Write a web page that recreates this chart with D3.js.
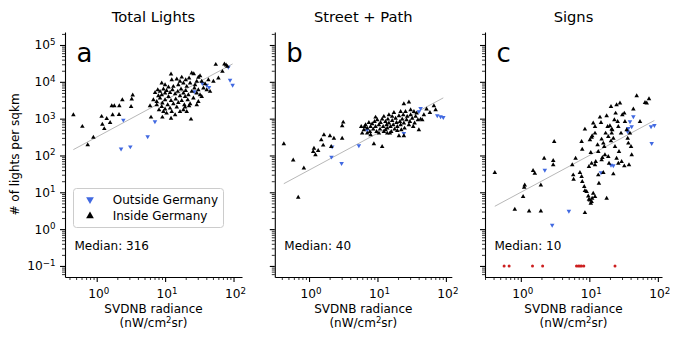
<!DOCTYPE html>
<html>
<head>
<meta charset="utf-8">
<script src="https://cdn.jsdelivr.net/npm/d3@7"></script>
<style>
  body { margin: 0; background: #fff; }
  text { font-family: "DejaVu Sans", sans-serif; fill: #000; }
  .axis path, .axis line { stroke: #000; stroke-width: 1.1px; }
  .minor line { stroke-width: 0.8px; }
</style>
</head>
<body>
<svg id="chart" width="676" height="340"></svg>
<script>
const panelTitles = ['Total Lights', 'Street + Path', 'Signs'];
const panelLetters = ['a', 'b', 'c'];
const medians = [316, 40, 10];
const legendLabels = ['Outside Germany', 'Inside Germany'];
const yMajorExps = [-1, 0, 1, 2, 3, 4, 5];
const xMajorExps = [0, 1, 2];

// [radiance (nW/cm2sr), lights per sqkm]
const totalInside = [
  [0.456,1260],[0.617,610],[0.739,193],[0.894,311],[1.18,1140],[1.21,700],[1.29,530],[1.40,1000],
  [1.57,780],[1.66,2210],[1.81,2210],[1.71,1260],[2.12,1290],[2.14,2210],[2.37,3220],[3.18,2120],
  [3.36,4320],[3.25,3370],[6.02,2210],[6.22,1090],[9.12,1090],[12.2,1020],[23.9,960],
  [55.0,29500],[73.6,30100],[81.3,26000],[77.8,28300],[68.8,19000],[12.2,16100],[24.5,17100],
  [26.2,16400],[30.6,13100],[29.0,10200],[32.4,14500],
  [8.92,9160],[9.98,8260],[12.5,11300],[14.8,11800],[16.5,10200],[17.5,13300],[18.5,9160],
  [20.0,11300],[22.4,12500],[15.6,8260],[11.2,7130],[13.2,7440],[20.7,7440],[23.2,9160],
  [27.4,8260],[34.3,10200],[38.4,8790],[42.9,11300],[50.8,10200],[60.1,12500],[36.3,6700],[30.6,6030],
  [7.13,5110],[7.80,6030],[8.43,5440],[9.44,6290],[9.98,4900],[10.5,5790],[11.8,5110],[12.8,6030],
  [14.0,4700],[15.3,5440],[17.1,6290],[18.5,4900],[20.0,5790],[21.9,4410],[24.5,5440],[26.8,6700],
  [29.0,4900],[32.4,4410],[40.6,6030],[45.4,5440],[7.97,4140],[8.92,4410],[11.2,3970],[16.5,4140],
  [19.6,3970],
  [6.74,3220],[7.54,2900],[8.43,3580],[9.12,2620],[9.98,3220],[10.9,2360],[12.2,3090],[13.2,2510],
  [14.3,3370],[15.6,2730],[17.5,3090],[19.1,2360],[21.4,3220],[23.2,2510],[25.9,3580],[30.6,2900],
  [34.3,3970],[8.92,2120],[9.98,1800],[11.8,1910],[14.8,2040],[19.6,2040],[22.4,2210],[29.0,2360],
  [7.54,2360],[8.15,1730],[9.44,1550],[10.5,1400],[12.5,1550],[14.0,1260],[16.5,1550],[18.5,1730],
  [20.7,1550]
];
const totalOutside = [
  [2.45,920],[2.27,152],[3.1,173],[5.56,324],[7.1,830],[35,9100],[40.5,8200],[43.8,7100],
  [26.7,5400],[84,25000],[89,11200],[97,8200]
];

const streetInside = [
  [0.428,205],[0.587,75],[0.84,45],[0.695,7.3],[1.15,127],[1.18,156],[1.24,103],[1.36,135],
  [1.51,264],[1.61,189],[1.65,360],[2.02,338],[2.11,173],[2.31,292],[3.05,292],[3.05,633],[3.16,796],
  [5.79,607],[5.98,400],[6.33,493],[6.70,674],[7.08,547],[7.49,780],[7.75,444],[7.93,607],
  [8.38,720],[8.67,514],[9.07,830],[9.38,607],[9.70,444],[9.93,920],[10.5,674],[10.9,514],
  [11.1,780],[11.7,960],[12.1,607],[12.4,444],[13.1,830],[13.6,674],[13.9,547],[14.2,960],
  [14.7,750],[15.2,400],[15.5,607],[16.4,885],[17.0,674],[17.4,1460],[17.8,514],[18.4,1020],
  [19.0,780],[19.5,607],[20.6,1180],[21.3,830],[21.8,674],[22.3,493],[23.0,960],[23.8,1260],
  [24.3,750],[24.9,547],[25.7,1550],[26.6,920],[27.2,1140],[28.8,674],[29.8,830],[30.5,1260],
  [32.2,1020],[33.3,607],[34.9,750],[36.1,1140],[37.3,1400],[39.0,920],[40.3,493],[42.7,960],
  [45.1,920],[47.7,1260],[52.2,1800],[58.4,1460],[66.8,2220],[70.8,1730],[24.3,2510],[28.8,2790],
  [8.87,205],[11.7,173],[20.6,338],[24.3,338],[13.9,400],[7.93,360],[10.5,400],[13.1,493],
  [15.9,444],[19.5,473],[7.08,400],[6.48,607],[9.38,1090],[12.4,1140],[14.7,1260],[16.4,1140],
  [21.8,1550],[30.5,1730],[34.1,1550]
];
const streetOutside = [
  [2.18,173],[2.13,91],[2.99,61],[5.35,185],[42.7,1910],[40.3,1550],[74.8,1210],[83.7,1140],
  [91.6,1090],[24.3,400],[7.08,493]
];

const signsInside = [
  [3.07,237],[7.71,237],[7.88,147],[8.62,514],[10.2,264],[10.8,311],[11.0,338],[11.4,750],
  [12.1,400],[12.1,607],[13.2,193],[14.3,1090],[14.8,780],[15.1,275],[16.0,214],[16.5,173],
  [17.3,400],[17.9,1180],[18.5,607],[18.9,325],[20.0,633],[20.7,247],[21.2,400],[21.2,514],
  [21.6,493],[22.4,292],[23.2,920],[23.7,173],[24.2,1400],[25.9,830],[26.5,607],[28.0,2620],
  [29.0,400],[30.3,1260],[32.4,1400],[33.1,830],[35.1,493],[36.3,292],[37.1,214],[39.2,400],
  [40.6,173],[43.9,1800],[49.1,4140],[54.9,830],[65.0,2730],[68.8,2620],[74.3,3430],[25.0,2360],
  [20.7,2120],
  [0.417,34.1],[0.817,3.43],[1.12,13.6],[1.14,15.7],[1.08,7.57],[1.32,3.09],[1.51,38.6],[1.60,32.7],
  [1.96,3.09],[1.96,15.7],[2.19,83.6],[2.97,72.2],[2.97,55.1],[5.63,55.1],[5.82,29.4],[5.89,22.4],
  [6.30,83.6],[7.29,34.1],[7.71,26.5],[7.88,19.4],[8.43,14.2],[8.62,11.0],[9.12,10.4],[9.65,7.9],
  [9.87,6.41],[10.2,6.15],[10.5,4.99],[10.8,5.54],[11.0,6.82],[11.4,9.33],[12.1,7.57],[8.62,2.78],
  [13.8,17.5],[17.9,6.82],[13.5,29.4],[16.0,34.1],[9.87,49.6],[10.8,61.1],[12.1,55.1],[15.1,75.3],
  [16.9,103],[18.9,92.7],[26.5,61.1],[29.6,67.8],[32.4,51.7],[37.9,55.1],[22.4,31.3],[10.5,119],
  [13.5,127],[15.5,87.1],[25.0,83.6],[27.1,127],[19.4,61.1],[41.5,103],[12.4,67.8]
];
const signsOutside = [
  [2.24,40.2],[2.87,1.28],[5.03,3.09],[14.8,34.1],[20.7,55.1],[22.4,52.8],[39.2,830],[41.5,607],
  [37.1,547],[36.3,444],[43.9,1140],[79.6,607],[89.0,660],[81.3,214]
];
// signs: districts with no signs, drawn at 10^-1
const signsZeroRadiance = [0.57, 0.675, 1.48, 2.08, 6.5, 6.9, 7.3, 7.7, 8.3, 23.7];
const zeroLevel = 0.1;

const insideSets = [totalInside, streetInside, signsInside];
const outsideSets = [totalOutside, streetOutside, signsOutside];
const xDomains = [[0.344, 133], [0.316, 122], [0.300, 115]];
const yDomain = [0.0501, 225400];

const panelLeft = [65, 274.8, 485];
const panelW = 177;
const plotTop = 32, plotBottom = 277;
const blue = '#4169e1';

const svg = d3.select('#chart');
const y = d3.scaleLog().domain(yDomain).range([plotBottom, plotTop]);

function powLabel(g, exp, x, yy, anchor) {
  const t = g.append('text').attr('x', x).attr('y', yy)
    .attr('text-anchor', anchor).style('font-size', '12.2px');
  t.append('tspan').text('10');
  t.append('tspan').attr('dy', -4.5).style('font-size', '8.7px')
    .text(exp < 0 ? '\u2212' + (-exp) : exp);
}

function minorTicks(domain) {
  const out = [];
  for (let k = -3; k <= 6; k++) {
    for (let m = 2; m <= 9; m++) {
      const v = m * Math.pow(10, k);
      if (v > domain[0] && v < domain[1]) out.push(v);
    }
  }
  return out;
}

const triUp = d3.symbol().type(d3.symbolTriangle).size(9)();
const triUpBig = d3.symbol().type(d3.symbolTriangle).size(26)();

panelTitles.forEach((title, i) => {
  const left = panelLeft[i];
  const x = d3.scaleLog().domain(xDomains[i]).range([left, left + panelW]);
  const g = svg.append('g');

  // reference line: lights = median * radiance
  const allPts = insideSets[i].concat(outsideSets[i]);
  const ext = d3.extent(allPts, d => d[0]);
  g.append('line')
    .attr('x1', x(ext[0])).attr('y1', y(ext[0] * medians[i]))
    .attr('x2', x(ext[1])).attr('y2', y(ext[1] * medians[i]))
    .attr('stroke', '#b8b8b8').attr('stroke-width', 1);

  g.selectAll('.out').data(outsideSets[i]).enter().append('path')
    .attr('d', triUp).attr('fill', blue)
    .attr('transform', d => `translate(${x(d[0])},${y(d[1])}) rotate(180)`);

  g.selectAll('.in').data(insideSets[i]).enter().append('path')
    .attr('d', triUp).attr('fill', '#000')
    .attr('transform', d => `translate(${x(d[0])},${y(d[1])})`);

  if (i == 2) {
    g.selectAll('.zero').data(signsZeroRadiance).enter().append('circle')
      .attr('cx', d => x(d)).attr('cy', y(zeroLevel)).attr('r', 1.5)
      .attr('fill', '#cc1f1f');
  }

  // axes
  g.append('g').attr('class', 'axis').attr('transform', `translate(0,${plotBottom})`)
    .call(d3.axisBottom(x).tickValues(xMajorExps.map(e => Math.pow(10, e)))
      .tickSize(5).tickSizeOuter(0).tickFormat(''));
  g.append('g').attr('class', 'axis minor').attr('transform', `translate(0,${plotBottom})`)
    .call(d3.axisBottom(x).tickValues(minorTicks(xDomains[i]))
      .tickSize(3).tickSizeOuter(0).tickFormat(''))
    .select('.domain').remove();
  g.append('g').attr('class', 'axis').attr('transform', `translate(${left},0)`)
    .call(d3.axisLeft(y).tickValues(yMajorExps.map(e => Math.pow(10, e)))
      .tickSize(5).tickSizeOuter(0).tickFormat(''));
  g.append('g').attr('class', 'axis minor').attr('transform', `translate(${left},0)`)
    .call(d3.axisLeft(y).tickValues(minorTicks(yDomain))
      .tickSize(3).tickSizeOuter(0).tickFormat(''))
    .select('.domain').remove();

  xMajorExps.forEach(e => powLabel(g, e, x(Math.pow(10, e)) + 2, 298, 'middle'));
  if (i == 0) {
    yMajorExps.forEach(e => powLabel(g, e, left - 9.5, y(Math.pow(10, e)) + 4.5, 'end'));
  }

  const cx = left + panelW / 2;
  g.append('text').attr('x', cx).attr('y', 22.3).attr('text-anchor', 'middle')
    .style('font-size', '14.7px').text(title);
  g.append('text').attr('x', left + 11.5).attr('y', 62.3)
    .style('font-size', '26px').text(panelLetters[i]);
  g.append('text').attr('x', left + 9.5).attr('y', 250)
    .style('font-size', '12px').text('Median: ' + medians[i]);

  g.append('text').attr('x', cx).attr('y', 312.5).attr('text-anchor', 'middle')
    .style('font-size', '12px').text('SVDNB radiance');
  const u = g.append('text').attr('x', cx).attr('y', 327).attr('text-anchor', 'middle')
    .style('font-size', '12px');
  u.append('tspan').text('(nW/cm');
  u.append('tspan').attr('dy', -4.5).style('font-size', '8.5px').text('2');
  u.append('tspan').attr('dy', 4.5).text('sr)');
});

// y axis label
svg.append('text').attr('transform', 'translate(19,154.5) rotate(-90)')
  .attr('text-anchor', 'middle').style('font-size', '12px').text('# of lights per sqkm');

// legend
const lg = svg.append('g');
lg.append('rect').attr('x', 73.5).attr('y', 188.5).attr('width', 150).attr('height', 39)
  .attr('rx', 3).attr('fill', '#fff').attr('fill-opacity', 0.8)
  .attr('stroke', '#cccccc').attr('stroke-width', 1);
lg.append('path').attr('d', triUpBig).attr('fill', blue)
  .attr('transform', 'translate(90,199.5) rotate(180)');
lg.append('path').attr('d', triUpBig).attr('fill', '#000')
  .attr('transform', 'translate(90,216)');
legendLabels.forEach((t, k) => {
  lg.append('text').attr('x', 112.7).attr('y', 203.5 + k * 16.5)
    .style('font-size', '12px').text(t);
});
</script>
</body>
</html>
